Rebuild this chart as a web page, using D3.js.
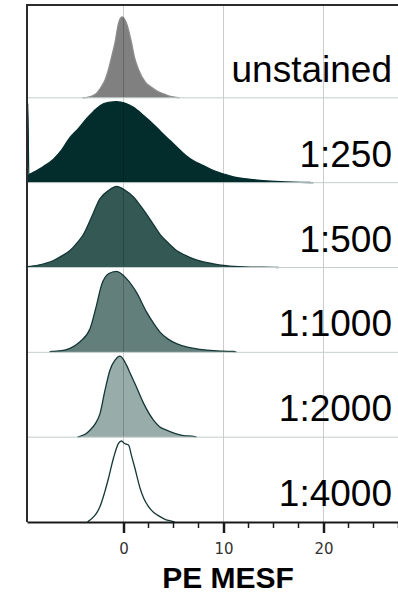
<!DOCTYPE html>
<html>
<head>
<meta charset="utf-8">
<style>
  body { margin: 0; background: #fff; }
  svg { display: block; }
</style>
</head>
<body>
<div id="chart"></div>
<script src="https://cdn.jsdelivr.net/npm/d3@7"></script>
<script>
// rows, top to bottom
const rowLabels = ['unstained', '1:250', '1:500', '1:1000', '1:2000', '1:4000']

// [PE MESF, relative count]
const unstained = [
  [-4.1, 0], [-3.5, 0.01], [-3.0, 0.03], [-2.6, 0.07], [-2.2, 0.14],
  [-1.85, 0.22], [-1.5, 0.35], [-1.2, 0.5], [-0.85, 0.68], [-0.5, 0.92],
  [-0.15, 1.0], [0.3, 0.92], [0.8, 0.68], [1.1, 0.5], [1.5, 0.35],
  [2.2, 0.19], [2.8, 0.13], [3.4, 0.08], [4.0, 0.05], [4.6, 0.02],
  [5.3, 0.005], [5.6, 0]
]
const dil250 = [
  [-9.65, 0.1], [-9.57, 0.98], [-9.47, 0.1], [-9.35, 0.107], [-8, 0.2],
  [-7, 0.29], [-6.2, 0.4], [-5.4, 0.55], [-4.5, 0.67], [-3.7, 0.79],
  [-3, 0.88], [-2.35, 0.95], [-1.5, 0.99], [-0.7, 1.0], [0.2, 0.98],
  [1.0, 0.93], [2, 0.83], [3, 0.72], [3.8, 0.62], [4.65, 0.52],
  [5.5, 0.42], [6.3, 0.33], [7, 0.27], [8, 0.21], [9, 0.15],
  [10, 0.107], [11, 0.07], [12, 0.05], [13, 0.037], [14, 0.025],
  [15.7, 0.012], [17, 0.006], [18.6, 0.002], [19, 0]
]
const dil500 = [
  [-9.65, 0.01], [-8.5, 0.03], [-7.0, 0.086], [-6.2, 0.14], [-5.35, 0.21],
  [-4.6, 0.31], [-4.0, 0.41], [-3.2, 0.62], [-2.35, 0.85], [-1.5, 0.95],
  [-0.7, 1.0], [0.2, 0.95], [1.0, 0.87], [1.65, 0.77], [2.3, 0.66],
  [3.0, 0.53], [3.65, 0.41], [4.5, 0.3], [5.3, 0.21], [6.2, 0.15],
  [7.0, 0.107], [8.0, 0.07], [9.0, 0.045], [10, 0.025], [11.6, 0.01],
  [13, 0.005], [15, 0.002], [15.5, 0]
]
const dil1000 = [
  [-7.4, 0], [-7.2, 0.012], [-6.2, 0.02], [-5.35, 0.05], [-4.35, 0.13],
  [-3.35, 0.29], [-2.7, 0.58], [-2.2, 0.83], [-1.5, 0.97], [-0.7, 1.0],
  [0.3, 0.91], [1.3, 0.74], [2.3, 0.5], [3.0, 0.36], [3.65, 0.25],
  [4.5, 0.16], [5.3, 0.107], [6.5, 0.06], [7.65, 0.037], [9, 0.02],
  [10, 0.014], [11, 0.01], [11.3, 0]
]
const dil2000 = [
  [-4.6, 0], [-4.35, 0.01], [-3.8, 0.04], [-3.35, 0.086], [-2.8, 0.17],
  [-2.35, 0.29], [-1.85, 0.58], [-1.35, 0.83], [-0.85, 0.95], [-0.35, 1.0],
  [0.3, 0.89], [0.7, 0.78], [1.15, 0.66], [2.0, 0.42], [3.0, 0.21],
  [3.6, 0.13], [4.3, 0.086], [5.2, 0.045], [6, 0.02], [7.0, 0.01],
  [7.3, 0]
]
const dil4000 = [
  [-3.6, 0], [-3.35, 0.025], [-2.8, 0.09], [-2.35, 0.19], [-1.9, 0.36],
  [-1.5, 0.54], [-1.0, 0.79], [-0.5, 0.97], [-0.2, 1.0], [0.1, 0.97],
  [0.5, 0.95], [0.8, 0.82], [1.15, 0.66], [1.65, 0.42], [2.0, 0.3],
  [2.5, 0.19], [3.0, 0.12], [3.65, 0.066], [4.2, 0.03], [4.8, 0.01],
  [5.1, 0]
]
const series = [unstained, dil250, dil500, dil1000, dil2000, dil4000]

const majorTicks = [0, 10, 20]
const minorTicks = [2.5, 5, 7.5, 12.5, 15, 17.5, 22.5, 25, 27.5]
const gridTicks = [0, 10, 20]
const xLabel = 'PE MESF'

const fillColors = ['#808080', '#032c2c', '#345955', '#637f7c', '#98acaa', '#ffffff']
const strokeColors = ['#8c8c8c', '#032c2c', '#143636', '#143636', '#143636', '#143636']

const margin = { top: 5, left: 27, right: -2, bottom: 73 }
const width = 398 - margin.left - margin.right
const height = 595 - margin.top - margin.bottom

const svg = d3
  .select('#chart')
  .append('svg')
  .attr('width', 398)
  .attr('height', 595)
  .append('g')
  .attr('transform', 'translate(' + margin.left + ',' + margin.top + ')')

const xPositionScale = d3.scaleLinear().domain([-9.65, 27.65]).range([0, width])
const rowScale = d3.scaleBand().domain(rowLabels).range([8, height])
const countScale = d3.scaleLinear().domain([0, 1]).range([0, 81])

const area = d3
  .area()
  .x(d => xPositionScale(d[0]))
  .y0(0)
  .y1(d => -countScale(d[1]))
  .curve(d3.curveMonotoneX)

const outline = d3
  .line()
  .x(d => xPositionScale(d[0]))
  .y(d => -countScale(d[1]))
  .curve(d3.curveMonotoneX)

svg
  .append('clipPath')
  .attr('id', 'plot-clip')
  .append('rect')
  .attr('x', 0)
  .attr('y', 0)
  .attr('width', width)
  .attr('height', height)

const plot = svg.append('g').attr('clip-path', 'url(#plot-clip)')

const rows = plot
  .selectAll('.row')
  .data(rowLabels)
  .enter()
  .append('g')
  .attr('class', 'row')
  .attr('transform', d => 'translate(0,' + (rowScale(d) + rowScale.bandwidth()) + ')')

rows
  .append('path')
  .attr('d', (d, i) => area(series[i]))
  .attr('fill', (d, i) => fillColors[i])

rows
  .append('path')
  .attr('d', (d, i) => outline(series[i]))
  .attr('fill', 'none')
  .attr('stroke', (d, i) => strokeColors[i])
  .attr('stroke-width', 1.3)

// grid lines sit on top of the histograms
plot
  .selectAll('.grid-x')
  .data(gridTicks)
  .enter()
  .append('line')
  .attr('class', 'grid-x')
  .attr('x1', d => xPositionScale(d))
  .attr('x2', d => xPositionScale(d))
  .attr('y1', 0)
  .attr('y2', height)
  .attr('stroke', '#000')
  .attr('stroke-opacity', 0.2)
  .attr('stroke-width', 1)

plot
  .selectAll('.grid-y')
  .data(rowLabels.slice(0, -1))
  .enter()
  .append('line')
  .attr('class', 'grid-y')
  .attr('x1', 0)
  .attr('x2', width)
  .attr('y1', d => rowScale(d) + rowScale.bandwidth())
  .attr('y2', d => rowScale(d) + rowScale.bandwidth())
  .attr('stroke', '#c4cece')
  .attr('stroke-width', 1)

// frame
svg
  .append('path')
  .attr('d', 'M' + width + ',0H0V' + height)
  .attr('fill', 'none')
  .attr('stroke', '#2b2b2b')
  .attr('stroke-width', 2)

svg
  .selectAll('.row-label')
  .data(rowLabels)
  .enter()
  .append('text')
  .attr('class', 'row-label')
  .attr('x', 392 - margin.left)
  .attr('y', d => rowScale(d) + rowScale.bandwidth() - 16)
  .attr('text-anchor', 'end')
  .attr('font-family', 'Liberation Sans, Arial, sans-serif')
  .attr('font-size', 37)
  .attr('fill', '#000')
  .text(d => d)

// x axis: major ticks labelled, minor ticks every 2.5
const xAxis = d3
  .axisBottom(xPositionScale)
  .tickValues(majorTicks)
  .tickSize(11)
  .tickPadding(10)
  .tickSizeOuter(0)

const axisG = svg
  .append('g')
  .attr('class', 'axis x-axis')
  .attr('transform', 'translate(0,' + height + ')')
  .call(xAxis)

axisG.select('.domain').attr('stroke', '#1a1a1a').attr('stroke-width', 2)
axisG.selectAll('.tick line').attr('stroke', '#1a1a1a').attr('stroke-width', 2.5)
axisG
  .selectAll('.tick text')
  .attr('font-family', 'DejaVu Sans, sans-serif')
  .attr('font-size', 15)
  .attr('fill', '#333')

axisG
  .selectAll('.minor-tick')
  .data(minorTicks)
  .enter()
  .append('line')
  .attr('class', 'minor-tick')
  .attr('x1', d => xPositionScale(d))
  .attr('x2', d => xPositionScale(d))
  .attr('y1', 0)
  .attr('y2', 6)
  .attr('stroke', '#1a1a1a')
  .attr('stroke-width', 1.5)

svg
  .append('text')
  .attr('x', 228 - margin.left)
  .attr('y', 588 - margin.top)
  .attr('text-anchor', 'middle')
  .attr('font-family', 'Liberation Sans, Arial, sans-serif')
  .attr('font-weight', 'bold')
  .attr('font-size', 30)
  .attr('fill', '#000')
  .text(xLabel)
</script>
</body>
</html>
